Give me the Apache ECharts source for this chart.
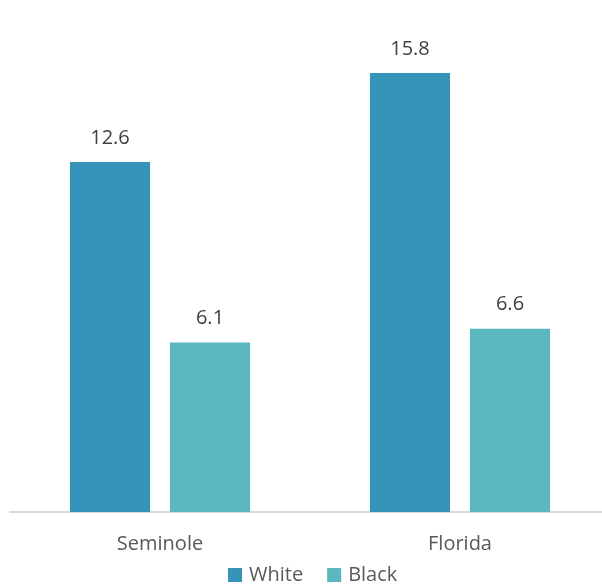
<!DOCTYPE html>
<html>
<head>
<meta charset="utf-8">
<script src="https://cdn.jsdelivr.net/npm/echarts@6/dist/echarts.min.js"></script>
<style>
html, body { margin: 0; padding: 0; background: #fff; }
#chart { width: 602px; height: 586px; }
</style>
</head>
<body>
<div id="chart"></div>
<script>
var categories = ['Seminole', 'Florida'];
var whiteValues = [12.6, 15.8];
var blackValues = [6.1, 6.6];
var seriesNames = ['White', 'Black'];

var myChart = echarts.init(document.getElementById('chart'));
var labelFont = 'Open Sans';
var option = {
    animation: false,
    grid: { left: 10, width: 600, top: 12, height: 500, outerBoundsMode: 'none' },
    legend: {
        data: seriesNames,
        top: 560,
        left: 223,
        itemWidth: 14,
        itemHeight: 14,
        itemGap: 24,
        icon: 'rect',
        textStyle: { fontFamily: labelFont, fontSize: 20, color: '#595959', padding: [0, 0, 0, 2] }
    },
    xAxis: {
        type: 'category',
        data: categories,
        axisLine: { lineStyle: { color: '#d9d9d9', width: 2 } },
        axisTick: { show: false },
        axisLabel: { margin: 22, fontFamily: labelFont, fontSize: 20, color: '#595959' }
    },
    yAxis: {
        type: 'value',
        min: 0,
        max: 18,
        show: false,
        splitLine: { show: false }
    },
    series: [
        {
            name: 'White',
            type: 'bar',
            data: whiteValues,
            barWidth: 80,
            barGap: '25%',
            itemStyle: { color: '#3594BA' },
            label: { show: true, position: 'top', distance: 14, fontFamily: labelFont, fontSize: 20, color: '#404040' }
        },
        {
            name: 'Black',
            type: 'bar',
            data: blackValues,
            barWidth: 80,
            itemStyle: { color: '#5AB7BF' },
            label: { show: true, position: 'top', distance: 14, fontFamily: labelFont, fontSize: 20, color: '#404040' }
        }
    ]
};
myChart.setOption(option);
</script>
</body>
</html>
